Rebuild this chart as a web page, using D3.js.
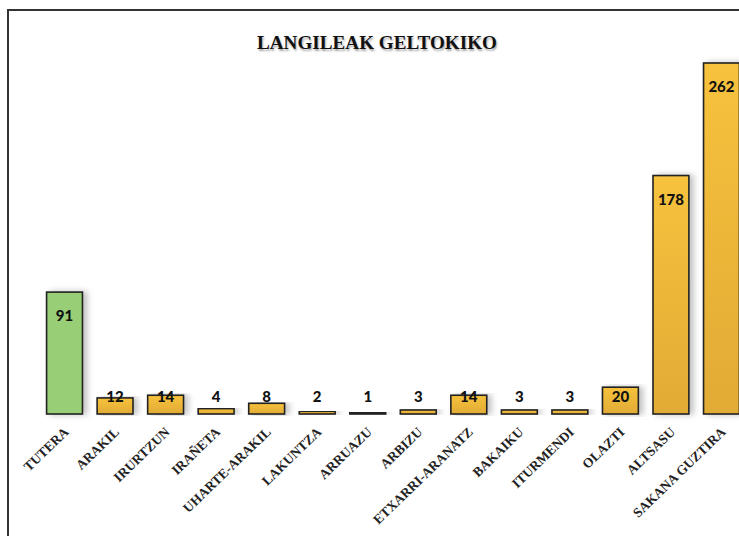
<!DOCTYPE html>
<html>
<meta charset="utf-8">
<style>
  body { margin: 0; background: #fff; }
  .title {
    font-family: "Liberation Serif", "Times New Roman", serif;
    font-weight: bold;
    font-size: 19px;
    fill: #111;
  }
  .cat {
    font-family: "Liberation Serif", "Times New Roman", serif;
    font-weight: bold;
    font-size: 13.5px;
    fill: #222;
  }
  .val {
    font-family: "Lato", "Open Sans", sans-serif;
    font-weight: 900;
    font-size: 15px;
    fill: #111;
  }
</style>
<body>
<script src="https://d3js.org/d3.v7.min.js"></script>
<script>
var categories = ["TUTERA", "ARAKIL", "IRURTZUN", "IRAÑETA", "UHARTE-ARAKIL", "LAKUNTZA", "ARRUAZU",
                  "ARBIZU", "ETXARRI-ARANATZ", "BAKAIKU", "ITURMENDI", "OLAZTI", "ALTSASU", "SAKANA GUZTIRA"];
var values = [91, 12, 14, 4, 8, 2, 1, 3, 14, 3, 3, 20, 178, 262];
var title = "LANGILEAK GELTOKIKO";

var width = 739, height = 536;
var baseY = 414;

var svg = d3.select("body").append("svg")
    .attr("width", width)
    .attr("height", height);

var defs = svg.append("defs");
var gy = defs.append("linearGradient").attr("id", "gy")
    .attr("x1", 0).attr("y1", 0).attr("x2", 0).attr("y2", 1);
gy.append("stop").attr("offset", "0%").attr("stop-color", "#f7c23c");
gy.append("stop").attr("offset", "100%").attr("stop-color", "#e1ab36");

var sh = defs.append("filter").attr("id", "sh")
    .attr("x", "-50%").attr("y", "-10%").attr("width", "200%").attr("height", "120%");
sh.append("feGaussianBlur").attr("in", "SourceAlpha").attr("stdDeviation", 3);
sh.append("feOffset").attr("dx", 4).attr("dy", 0).attr("result", "b");
sh.append("feComponentTransfer").append("feFuncA").attr("type", "linear").attr("slope", 0.25);
var m = sh.append("feMerge");
m.append("feMergeNode");
m.append("feMergeNode").attr("in", "SourceGraphic");

// frame
svg.append("path")
    .attr("d", "M8," + height + "V10H" + width)
    .attr("fill", "none")
    .attr("stroke", "#333")
    .attr("stroke-width", 2);

svg.append("text")
    .attr("class", "title")
    .attr("x", 377).attr("y", 49)
    .attr("text-anchor", "middle")
    .attr("textLength", 240)
    .attr("lengthAdjust", "spacingAndGlyphs")
    .style("text-shadow", "1px 2px 2px rgba(0,0,0,0.35)")
    .text(title);

var x = d3.scaleBand()
    .domain(categories)
    .range([39, 747])
    .paddingInner(0.29)
    .paddingOuter(0.15);

var y = d3.scaleLinear()
    .domain([0, 262])
    .range([baseY, 63]);

var g = svg.append("g");

g.selectAll("rect")
    .data(values)
  .enter().append("rect")
    .attr("x", function(d, i) { return x(categories[i]); })
    .attr("y", function(d) { return y(d); })
    .attr("width", x.bandwidth())
    .attr("height", function(d) { return baseY - y(d); })
    .attr("fill", function(d, i) { return i === 0 ? "#98cf76" : "url(#gy)"; })
    .attr("stroke", "#222")
    .attr("stroke-width", 1.6)
    .attr("filter", "url(#sh)");

g.selectAll("text.val")
    .data(values)
  .enter().append("text")
    .attr("class", "val")
    .attr("x", function(d, i) { return x(categories[i]) + x.bandwidth() / 2; })
    .attr("y", function(d) { return Math.min(y(d) + 29, 402); })
    .attr("text-anchor", "middle")
    .text(function(d) { return d; });

g.selectAll("text.cat")
    .data(categories)
  .enter().append("text")
    .attr("class", "cat")
    .attr("text-anchor", "end")
    .attr("transform", function(d) {
      return "translate(" + (x(d) + x.bandwidth() / 2 + 5) + ",433) rotate(-44)";
    })
    .text(function(d) { return d; });
</script>
</body>
</html>
